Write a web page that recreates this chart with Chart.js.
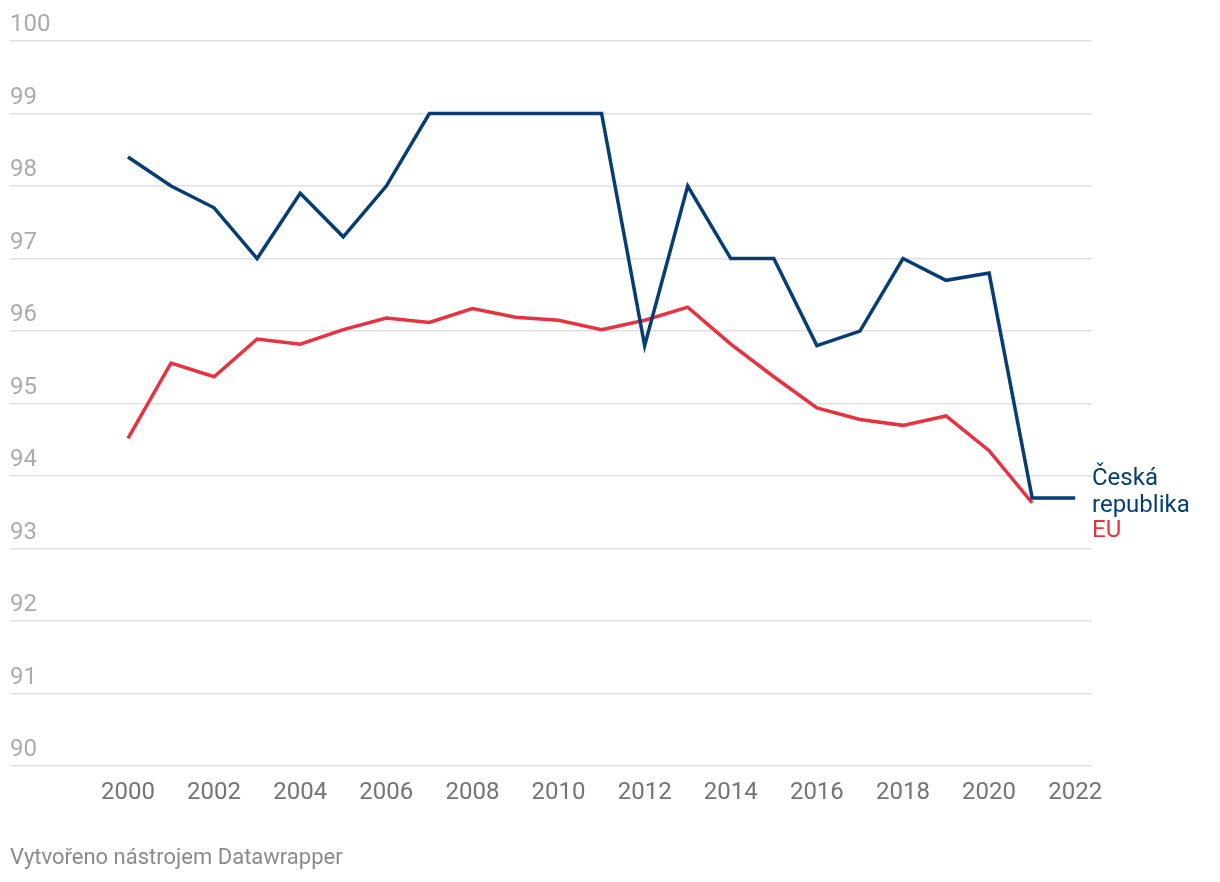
<!DOCTYPE html>
<html>
<head>
<meta charset="utf-8">
<script src="https://cdn.jsdelivr.net/npm/chart.js@4.4.1/dist/chart.umd.min.js"></script>
<style>
  html, body { margin: 0; padding: 0; background: #ffffff; }
  #wrap { width: 1220px; height: 882px; position: relative; }
</style>
</head>
<body>
<div id="wrap"><canvas id="chart"></canvas></div>
<script>
// Roky a hodnoty
const roky = [2000, 2001, 2002, 2003, 2004, 2005, 2006, 2007, 2008, 2009, 2010, 2011,
  2012, 2013, 2014, 2015, 2016, 2017, 2018, 2019, 2020, 2021, 2022];
const hodnotyCR = [98.4, 98.0, 97.7, 97.0, 97.9, 97.3, 98.0, 99.0, 99.0, 99.0, 99.0, 99.0,
  95.8, 98.0, 97.0, 97.0, 95.8, 96.0, 97.0, 96.7, 96.8, 93.7, 93.7];
const hodnotyEU = [94.52, 95.56, 95.37, 95.89, 95.82, 96.02, 96.18, 96.12, 96.31, 96.19, 96.15, 96.02,
  96.15, 96.33, 95.82, 95.37, 94.94, 94.78, 94.7, 94.83, 94.35, 93.63, null];
const xTicky = [2000, 2002, 2004, 2006, 2008, 2010, 2012, 2014, 2016, 2018, 2020, 2022];
const yTicky = [90, 91, 92, 93, 94, 95, 96, 97, 98, 99, 100];

const modra = "#063d72";
const cervena = "#e8323f";
const font = "Roboto, 'Noto Sans', sans-serif";

// Popisky na konci čar a patička
const popisky = {
  id: "popisky",
  afterDraw(chart) {
    const ctx = chart.ctx;
    const area = chart.chartArea;
    const y = chart.scales.y;
    const yCR = y.getPixelForValue(hodnotyCR[hodnotyCR.length - 1]);
    ctx.save();
    ctx.font = "24px " + font;
    ctx.textAlign = "left";
    ctx.textBaseline = "alphabetic";
    ctx.fillStyle = modra;
    ctx.fillText("Česká", area.right, yCR - 13);
    ctx.fillText("republika", area.right, yCR + 14);
    ctx.fillStyle = cervena;
    ctx.fillText("EU", area.right, yCR + 39);

    ctx.font = "22px " + font;
    ctx.fillStyle = "#8a8a8a";
    ctx.textBaseline = "middle";
    ctx.fillText("Vytvořeno nástrojem Datawrapper", 10, 858);
    ctx.restore();
  }
};

new Chart(document.getElementById("chart"),
{
  type: "line",
  data:
  {
    datasets: [
    {
      label: "Česká republika",
      data: roky.map((r, i) => ({ x: r, y: hodnotyCR[i] })),
      borderColor: modra,
      borderWidth: 3.5,
      pointRadius: 0,
      tension: 0
    },
    {
      label: "EU",
      data: roky.map((r, i) => ({ x: r, y: hodnotyEU[i] })),
      borderColor: cervena,
      borderWidth: 3.5,
      pointRadius: 0,
      tension: 0
    }]
  },
  options:
  {
    responsive: true,
    maintainAspectRatio: false,
    animation: false,
    layout: { padding: { left: 10, right: 128, top: 41, bottom: 71 } },
    plugins:
    {
      legend: { display: false },
      tooltip: { enabled: false }
    },
    scales:
    {
      x:
      {
        type: "linear",
        min: 1997.26,
        max: 2022.39,
        afterBuildTicks: axis => { axis.ticks = xTicky.map(v => ({ value: v })); },
        grid: { display: false },
        border: { display: false },
        ticks:
        {
          color: "#747474",
          font: { family: font, size: 24 },
          padding: 4,
          maxRotation: 0,
          autoSkip: false,
          callback: v => String(v)
        }
      },
      y:
      {
        min: 90,
        max: 100,
        afterBuildTicks: axis => { axis.ticks = yTicky.map(v => ({ value: v })); },
        grid: { color: "#e0e0e0", lineWidth: 1.5, drawTicks: false },
        border: { display: false },
        ticks:
        {
          mirror: true,
          padding: 0,
          labelOffset: -16,
          color: "#ababab",
          font: { family: font, size: 24 },
          callback: v => String(v)
        }
      }
    }
  },
  plugins: [popisky]
});
</script>
</body>
</html>
